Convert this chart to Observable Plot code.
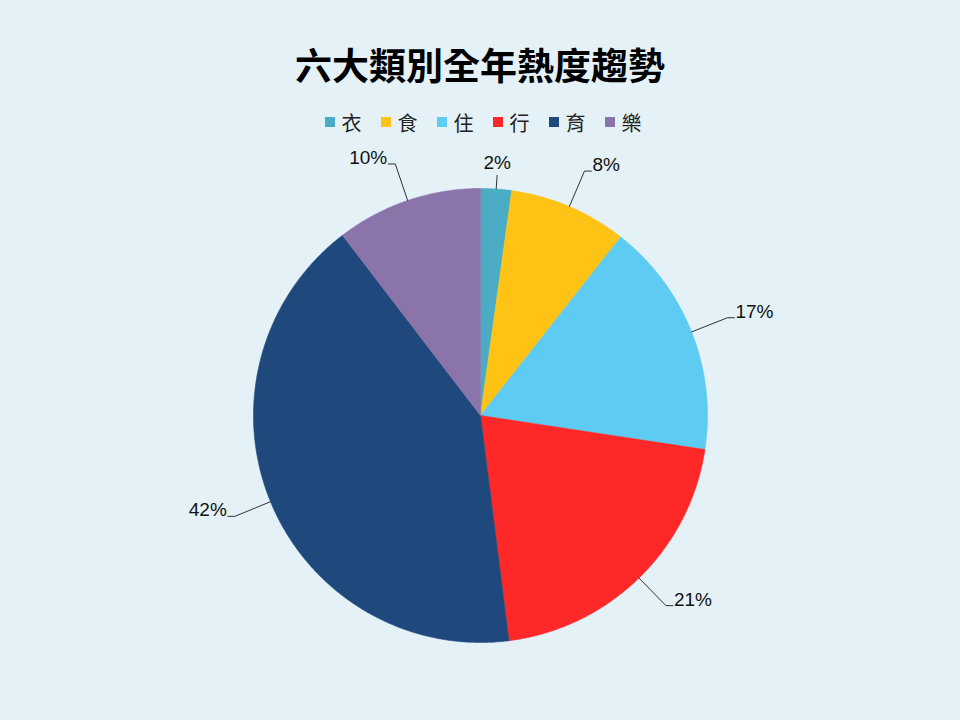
<!DOCTYPE html>
<html>
<head>
<meta charset="utf-8">
<script src="https://cdn.jsdelivr.net/npm/d3@7"></script>
<script src="https://cdn.jsdelivr.net/npm/@observablehq/plot@0.6"></script>
<style>
  html, body { margin: 0; padding: 0; background: #E4F1F7; }
  #wrap { position: relative; width: 960px; height: 720px; background: #E4F1F7; overflow: hidden; }
  #title { position: absolute; top: 40px; left: 0; width: 960px; text-align: center;
    font-family: "Noto Sans CJK TC", "Noto Sans CJK SC", sans-serif; font-weight: 700;
    font-size: 37px; line-height: 48px; color: #000; }
  #legend { position: absolute; top: 110px; left: 3px; width: 960px; height: 24px;
    display: flex; justify-content: center; align-items: center;
    font-family: "Noto Sans CJK TC", sans-serif; font-size: 20px; color: #222; }
  .item { display: flex; align-items: center; margin: 0 9.5px; }
  .sw { width: 10px; height: 10px; margin-right: 7px; }
  #chart { position: absolute; top: 150px; left: 0; }
</style>
</head>
<body>
<div id="wrap">
  <div id="title">六大類別全年熱度趨勢</div>
  <div id="legend"></div>
  <div id="chart"></div>
</div>
<script>
// ---- data ----
const categories = ["衣", "食", "住", "行", "育", "樂"];
const shares = [2.2, 8.4, 16.8, 20.6, 41.6, 10.4];
const percentLabels = ["2%", "8%", "17%", "21%", "42%", "10%"];
const colors = ["#4BACC6", "#FFC316", "#5ECBF2", "#FF2828", "#1F497D", "#8B74A9"];

// ---- legend ----
const legend = document.getElementById("legend");
categories.forEach((c, i) => {
  const it = document.createElement("div");
  it.className = "item";
  const sw = document.createElement("div");
  sw.className = "sw";
  sw.style.background = colors[i];
  const t = document.createElement("span");
  t.textContent = c;
  it.appendChild(sw); it.appendChild(t);
  legend.appendChild(it);
});

// ---- geometry (derived from data) ----
const R = 227;
const arcs = d3.pie().sort(null).value(d => d)(shares);
const slicePts = [];
arcs.forEach((a, i) => {
  const cat = categories[i];
  slicePts.push({cat, x: 0, y: 0});
  const n = Math.max(2, Math.ceil((a.endAngle - a.startAngle) / 0.01));
  for (let k = 0; k <= n; k++) {
    const t = a.startAngle + (a.endAngle - a.startAngle) * k / n;
    slicePts.push({cat, x: R * Math.sin(t), y: R * Math.cos(t)});
  }
});

const leaderPts = [];
const labelData = [];
arcs.forEach((a, i) => {
  const cat = categories[i];
  const m = (a.startAngle + a.endAngle) / 2;
  const s = Math.sin(m), c = Math.cos(m);
  const centered = Math.abs(s) < 0.3;
  const r2 = centered ? R * 1.06 : R * 1.17;
  const ex = r2 * s, ey = r2 * c;
  leaderPts.push({cat, x: R * s, y: R * c});
  leaderPts.push({cat, x: ex, y: ey});
  if (centered) {
    labelData.push({cat, x: ex, y: ey, text: percentLabels[i], side: "middle", top: c > 0});
  } else {
    const hx = ex + (s > 0 ? 7 : -7);
    leaderPts.push({cat, x: hx, y: ey});
    labelData.push({cat, x: hx, y: ey, text: percentLabels[i], side: s > 0 ? "start" : "end"});
  }
});

const textStyle = {fontSize: 19, fill: "#111", fontFamily: "Liberation Sans, Arial, sans-serif"};

const chart = Plot.plot({
  width: 960,
  height: 570,
  margin: 0,
  style: {background: "transparent", overflow: "visible"},
  x: {domain: [-480, 480], axis: null},
  y: {domain: [-305, 265], axis: null},
  color: {domain: categories, range: colors},
  marks: [
    Plot.line(slicePts, {x: "x", y: "y", z: "cat", fill: "cat", stroke: "cat", strokeWidth: 0.6, curve: "linear-closed"}),
    Plot.line(leaderPts, {x: "x", y: "y", z: "cat", stroke: "#333", strokeWidth: 1}),
    Plot.text(labelData.filter(d => d.side === "start"), {x: "x", y: "y", text: "text", textAnchor: "start", lineAnchor: "bottom", dx: 1, ...textStyle}),
    Plot.text(labelData.filter(d => d.side === "end"), {x: "x", y: "y", text: "text", textAnchor: "end", lineAnchor: "bottom", dx: -1, ...textStyle}),
    Plot.text(labelData.filter(d => d.side === "middle" && d.top), {x: "x", y: "y", text: "text", textAnchor: "middle", lineAnchor: "bottom", dy: -6, ...textStyle}),
    Plot.text(labelData.filter(d => d.side === "middle" && !d.top), {x: "x", y: "y", text: "text", textAnchor: "middle", lineAnchor: "top", dy: 6, ...textStyle})
  ]
});
document.getElementById("chart").appendChild(chart);
</script>
</body>
</html>
